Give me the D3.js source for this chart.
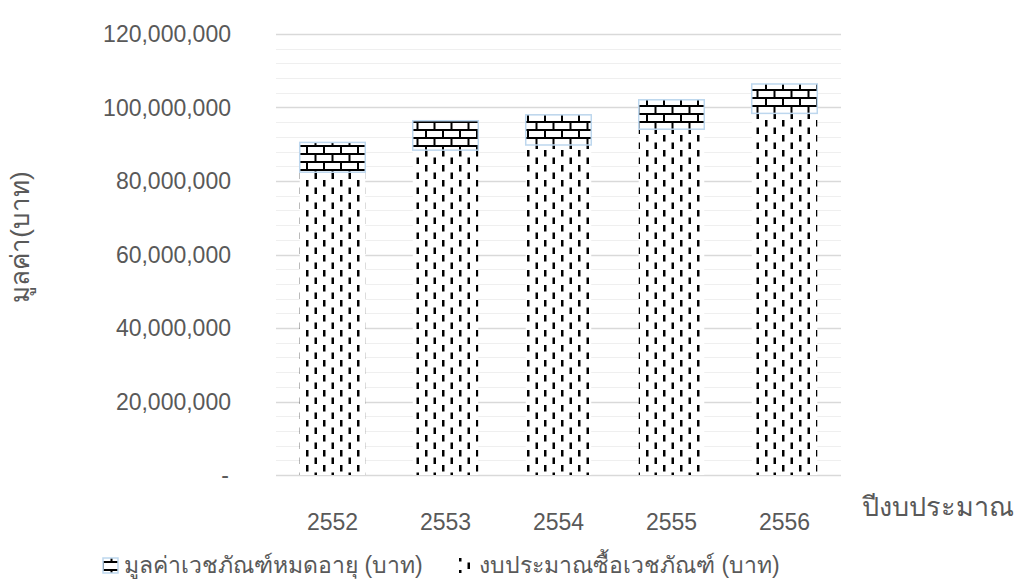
<!DOCTYPE html>
<html>
<head>
<meta charset="utf-8">
<script src="https://cdn.jsdelivr.net/npm/d3@7"></script>
<style>
  html, body { margin: 0; padding: 0; background: #fff; }
  svg { display: block; }
  text { font-family: "Liberation Sans", "Noto Sans", sans-serif; fill: #595959; }
</style>
</head>
<body>
<svg id="chart" width="1017" height="581"></svg>
<script>
// Fiscal years (Buddhist era)
const years = ["2552", "2553", "2554", "2555", "2556"];
// Drug purchasing budget (baht)
const budget = [82400000, 88400000, 89800000, 94100000, 98400000];
// Value of expired medical supplies (baht)
const expired = [8100000, 8000000, 8200000, 8000000, 8000000];
// Y-axis ticks
const yTicks = [0, 20000000, 40000000, 60000000, 80000000, 100000000, 120000000];
const seriesNames = ["มูลค่าเวชภัณฑ์หมดอายุ (บาท)", "งบประมาณซื้อเวชภัณฑ์ (บาท)"];

const svg = d3.select("#chart");
const margin = { left: 276, right: 176, top: 34, bottom: 106 };
const W = 1017, H = 581;

const x = d3.scaleBand().domain(years).range([margin.left, W - margin.right]).paddingInner(0.42).paddingOuter(0.21);
const y = d3.scaleLinear().domain([0, 120000000]).range([H - margin.bottom, margin.top]);

// Fill patterns
const defs = svg.append("defs");
const brick = defs.append("pattern").attr("id", "brick")
  .attr("patternUnits", "userSpaceOnUse").attr("width", 17).attr("height", 16)
  .attr("x", 0).attr("y", 1);
brick.append("rect").attr("width", 17).attr("height", 16).attr("fill", "#fff");
brick.append("rect").attr("x", 0).attr("y", 0).attr("width", 17).attr("height", 2).attr("fill", "#000");
brick.append("rect").attr("x", 0).attr("y", 8).attr("width", 17).attr("height", 2).attr("fill", "#000");
brick.append("rect").attr("x", 0).attr("y", 0).attr("width", 2).attr("height", 8).attr("fill", "#000");
brick.append("rect").attr("x", 8.5).attr("y", 8).attr("width", 2).attr("height", 8).attr("fill", "#000");

const dash = defs.append("pattern").attr("id", "dashv")
  .attr("patternUnits", "userSpaceOnUse").attr("width", 17).attr("height", 15);
dash.append("rect").attr("width", 17).attr("height", 15).attr("fill", "#fff");
dash.append("rect").attr("x", 0).attr("y", 0).attr("width", 2.5).attr("height", 6.5).attr("fill", "#000");
dash.append("rect").attr("x", 8.5).attr("y", 7.5).attr("width", 2.5).attr("height", 6.5).attr("fill", "#000");

// Minor gridlines
const minor = d3.range(0, 120000001, 4000000).filter(v => v % 20000000 !== 0);
svg.append("g").selectAll("line").data(minor).join("line")
  .attr("x1", margin.left).attr("x2", W - margin.right)
  .attr("y1", d => Math.round(y(d)) + 0.5).attr("y2", d => Math.round(y(d)) + 0.5)
  .attr("stroke", "#efefef").attr("stroke-width", 1);
// Major gridlines
svg.append("g").selectAll("line").data(yTicks).join("line")
  .attr("x1", margin.left).attr("x2", W - margin.right)
  .attr("y1", d => Math.round(y(d)) + 0.5).attr("y2", d => Math.round(y(d)) + 0.5)
  .attr("stroke", "#d9d9d9").attr("stroke-width", 1.3);

// Stacked bars
const bars = svg.append("g");
bars.selectAll("rect.budget").data(years).join("rect").attr("class", "budget")
  .attr("x", d => x(d)).attr("width", x.bandwidth())
  .attr("y", (d, i) => y(budget[i])).attr("height", (d, i) => y(0) - y(budget[i]))
  .attr("fill", "url(#dashv)");
bars.selectAll("rect.expired").data(years).join("rect").attr("class", "expired")
  .attr("x", d => x(d)).attr("width", x.bandwidth())
  .attr("y", (d, i) => y(budget[i] + expired[i])).attr("height", (d, i) => y(budget[i]) - y(budget[i] + expired[i]))
  .attr("fill", "url(#brick)").attr("stroke", "#bdd7ee").attr("stroke-width", 1.5);

// Y axis labels
const fmt = d3.format(",");
svg.append("g").selectAll("text").data(yTicks).join("text")
  .attr("y", d => y(d)).attr("dy", "0.35em")
  .attr("text-anchor", "end").attr("font-size", 23)
  .attr("x", d => d === 0 ? 229 : 231)
  .text(d => d === 0 ? "-" : fmt(d));

// X axis labels
svg.append("g").selectAll("text").data(years).join("text")
  .attr("x", d => x(d) + x.bandwidth() / 2).attr("y", 522)
  .attr("dy", "0.35em").attr("text-anchor", "middle").attr("font-size", 23)
  .text(d => d);

// Axis titles
svg.append("text").attr("x", 862).attr("y", 507).attr("dy", "0.35em")
  .attr("font-size", 27).text("ปีงบประมาณ");
svg.append("text").attr("transform", "translate(20,237) rotate(-90)")
  .attr("text-anchor", "middle").attr("dy", "0.35em").attr("font-size", 26)
  .text("มูลค่า(บาท)");

// Legend
const leg = svg.append("g");
leg.append("rect").attr("x", 103).attr("y", 558).attr("width", 15).attr("height", 15)
  .attr("fill", "url(#brick)").attr("stroke", "#bdd7ee").attr("stroke-width", 1.5);
leg.append("text").attr("x", 124).attr("y", 565).attr("dy", "0.35em").attr("font-size", 23)
  .text(seriesNames[0]);
leg.append("rect").attr("x", 457).attr("y", 558).attr("width", 15).attr("height", 15)
  .attr("fill", "url(#dashv)");
leg.append("text").attr("x", 479).attr("y", 565).attr("dy", "0.35em").attr("font-size", 23)
  .text(seriesNames[1]);
</script>
</body>
</html>
